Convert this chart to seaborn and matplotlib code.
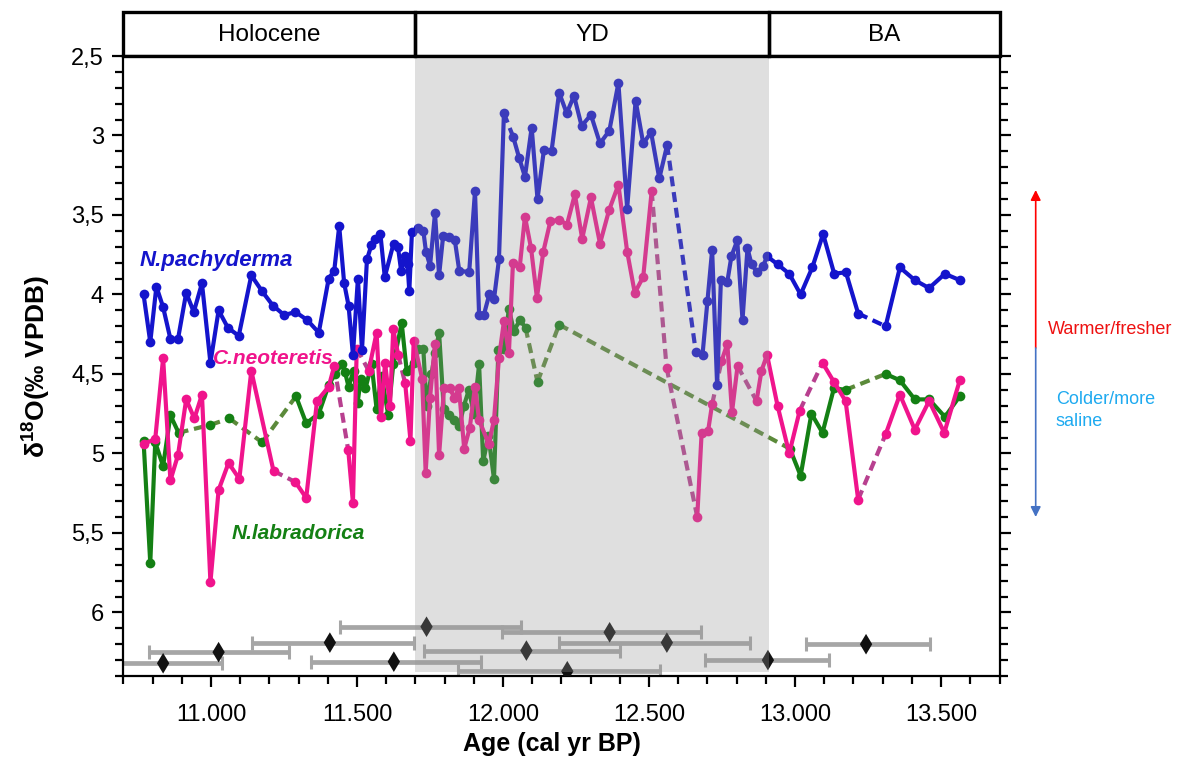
import matplotlib
matplotlib.use("Agg")
import numpy as np
import pandas as pd
import matplotlib.pyplot as plt
import seaborn as sns
from matplotlib.patches import Rectangle, FancyArrowPatch

# ---------------------------------------------------------------- data
# N. pachyderma (planktic) – age (cal yr BP), d18O (permil VPDB)
pach_age = [10769, 10792, 10813, 10836, 10861, 10887, 10915, 10941, 10969, 10998,
            11026, 11058, 11095, 11138, 11175, 11212, 11251, 11289, 11329, 11369,
            11403, 11422, 11439, 11456, 11471, 11486, 11503, 11517, 11534, 11549,
            11563, 11580, 11595, 11625, 11640, 11651, 11663, 11673, 11679, 11688,
            11709, 11727, 11736, 11750, 11767, 11781, 11795, 11816, 11835, 11850,
            11884, 11904, 11918, 11934, 11953, 11969, 11986, 12003, 12035, 12055,
            12075, 12098, 12118, 12140, 12166, 12192, 12218, 12243, 12269, 12301,
            12332, 12364, 12395, 12425, 12454, 12480, 12507, 12535, 12562, 12660,
            12683, 12700, 12716, 12733, 12746, 12768, 12782, 12802, 12820, 12837,
            12851, 12870, 12891, 12904, 12940, 12980, 13019, 13059, 13096, 13134,
            13174, 13216, 13310, 13359, 13410, 13459, 13513, 13564]
pach_d18o = [4.00, 4.30, 3.95, 4.08, 4.28, 4.28, 3.99, 4.11, 3.93, 4.43,
             4.10, 4.21, 4.26, 3.88, 3.98, 4.07, 4.13, 4.11, 4.16, 4.24,
             3.90, 3.85, 3.57, 3.93, 4.07, 4.38, 3.90, 4.35, 3.78, 3.69,
             3.65, 3.62, 3.89, 3.68, 3.70, 3.85, 3.76, 3.81, 3.98, 3.61,
             3.58, 3.60, 3.73, 3.82, 3.49, 3.88, 3.63, 3.64, 3.66, 3.85,
             3.86, 3.35, 4.13, 4.13, 4.00, 4.03, 3.78, 2.86, 3.01, 3.14,
             3.26, 2.95, 3.40, 3.09, 3.10, 2.73, 2.86, 2.75, 2.94, 2.87,
             3.05, 2.97, 2.67, 3.46, 2.78, 3.05, 2.98, 3.27, 3.06, 4.36,
             4.38, 4.04, 3.72, 4.57, 3.91, 3.92, 3.76, 3.66, 4.16, 3.71,
             3.81, 3.86, 3.82, 3.76, 3.81, 3.87, 4.00, 3.83, 3.62, 3.87,
             3.86, 4.12, 4.20, 3.83, 3.91, 3.96, 3.87, 3.91]

# C. neoteretis (benthic)
neot_age = [10769, 10809, 10836, 10861, 10887, 10915, 10943, 10969, 10998, 11026,
            11060, 11097, 11138, 11214, 11289, 11326, 11363, 11403, 11422, 11470,
            11486, 11499, 11540, 11567, 11582, 11596, 11613, 11624, 11641, 11665,
            11683, 11694, 11723, 11735, 11750, 11767, 11781, 11798, 11818, 11833,
            11849, 11867, 11886, 11904, 11918, 11951, 11969, 11986, 12003, 12020,
            12034, 12057, 12075, 12096, 12116, 12138, 12162, 12192, 12219, 12246,
            12271, 12301, 12332, 12363, 12395, 12425, 12451, 12480, 12509, 12560,
            12665, 12680, 12702, 12716, 12748, 12768, 12784, 12803, 12868, 12885,
            12904, 12940, 12980, 13016, 13094, 13133, 13173, 13216, 13310, 13359,
            13410, 13459, 13511, 13564]
neot_d18o = [4.94, 4.91, 4.40, 5.17, 5.01, 4.66, 4.78, 4.63, 5.81, 5.23,
             5.06, 5.16, 4.48, 5.11, 5.18, 5.28, 4.67, 4.58, 4.45, 4.98,
             5.31, 4.34, 4.48, 4.24, 4.77, 4.43, 4.70, 4.22, 4.38, 4.56,
             4.92, 4.29, 4.53, 5.12, 4.65, 4.31, 5.01, 4.59, 4.59, 4.65,
             4.59, 4.97, 4.84, 4.58, 4.79, 4.94, 4.79, 4.40, 4.17, 4.37,
             3.80, 3.83, 3.51, 3.71, 4.02, 3.73, 3.54, 3.53, 3.56, 3.37,
             3.65, 3.39, 3.68, 3.47, 3.31, 3.73, 3.99, 3.89, 3.35, 4.46,
             5.40, 4.87, 4.86, 4.69, 4.42, 4.31, 4.74, 4.45, 4.67, 4.48,
             4.38, 4.70, 5.00, 4.73, 4.43, 4.55, 4.67, 5.29, 4.88, 4.63,
             4.85, 4.67, 4.87, 4.54]

# N. labradorica (benthic)
labr_age = [10769, 10792, 10809, 10836, 10861, 10889, 10998, 11063, 11175, 11291,
            11326, 11369, 11403, 11425, 11448, 11459, 11471, 11488, 11502, 11513,
            11529, 11550, 11567, 11584, 11607, 11624, 11653, 11670, 11696, 11710,
            11727, 11738, 11755, 11767, 11781, 11797, 11815, 11833, 11850, 11866,
            11883, 11900, 11918, 11932, 11950, 11969, 11984, 12003, 12020, 12037,
            12058, 12077, 12118, 12192, 12982, 13019, 13056, 13094, 13133, 13173,
            13310, 13359, 13410, 13459, 13513, 13564]
labr_d18o = [4.92, 5.69, 4.93, 5.08, 4.76, 4.87, 4.82, 4.78, 4.93, 4.64,
             4.81, 4.75, 4.57, 4.50, 4.44, 4.49, 4.58, 4.48, 4.68, 4.53,
             4.59, 4.44, 4.72, 4.51, 4.76, 4.44, 4.18, 4.48, 4.43, 4.34,
             4.34, 4.70, 4.50, 4.37, 4.24, 4.72, 4.76, 4.79, 4.83, 4.70,
             4.60, 4.75, 4.44, 5.05, 4.89, 5.16, 4.35, 4.34, 4.09, 4.23,
             4.16, 4.21, 4.55, 4.19, 4.97, 5.14, 4.75, 4.87, 4.59, 4.60,
             4.50, 4.54, 4.66, 4.66, 4.77, 4.64]

# radiocarbon dates with calibrated age ranges
date_age = [11738, 12365, 11407, 12561, 13243, 11026, 12080, 10836, 11626, 12907, 12220]
date_err_young = [296, 369, 267, 370, 205, 238, 351, 200, 284, 216, 375]
date_err_old = [323, 312, 288, 284, 219, 241, 320, 202, 298, 208, 317]
date_level = [6.09, 6.125, 6.19, 6.19, 6.20, 6.25, 6.24, 6.32, 6.31, 6.30, 6.37]

# climate periods
period_names = ["Holocene", "YD", "BA"]
period_start = [10700, 11700, 12910]
period_end = [11700, 12910, 13700]

# axis ticks and labels
x_ticks = [11000, 11500, 12000, 12500, 13000, 13500]
x_tick_labels = ["11.000", "11.500", "12.000", "12.500", "13.000", "13.500"]
y_ticks = [2.5, 3.0, 3.5, 4.0, 4.5, 5.0, 5.5, 6.0]
y_tick_labels = ["2,5", "3", "3,5", "4", "4,5", "5", "5,5", "6"]

# links (index i -> i+1) drawn as dashed connections across sampling gaps
pach_dashed = [57, 78, 101]
neot_dashed = [13, 18, 21, 28, 68, 69, 73, 77, 83, 87]
labr_dashed = [5, 6, 7, 8, 51, 52, 53, 59]

# ---------------------------------------------------------------- style
sns.set_theme(style="white")
plt.rcParams["font.family"] = ["Liberation Sans", "DejaVu Sans"]
plt.rcParams["mathtext.fontset"] = "custom"
plt.rcParams["mathtext.rm"] = "Liberation Sans"
plt.rcParams["mathtext.bf"] = "Liberation Sans:bold"
for key in ("text.color", "axes.labelcolor", "xtick.color", "ytick.color",
            "axes.edgecolor"):
    plt.rcParams[key] = "black"

FW, FH = 1183, 758


def fx(px):
    return px / FW


def fy(py):
    return 1 - py / FH


AX_L, AX_R, AX_T, AX_B = 123.4, 999.5, 56, 676

fig = plt.figure(figsize=(FW / 100, FH / 100), dpi=100)
ax = fig.add_axes([fx(AX_L), fy(AX_B), (AX_R - AX_L) / FW, (AX_B - AX_T) / FH])
hax = fig.add_axes([fx(AX_L), fy(AX_T), (AX_R - AX_L) / FW, (AX_T - 12) / FH])

LW = 3.0
MS = 7.0


def draw_series(ages, vals, dashed, color, dash_color):
    run, r = [], 0
    for i in range(len(ages)):
        run.append(r)
        if i in dashed:
            r += 1
    df = pd.DataFrame({"age": ages, "d18o": vals, "run": run})
    sns.lineplot(data=df, x="age", y="d18o", units="run", estimator=None,
                 sort=False, color=color, lw=LW, marker="o", markersize=MS,
                 markeredgewidth=0, ax=ax, legend=False, zorder=3)
    for i in dashed:
        ax.plot(ages[i:i + 2], vals[i:i + 2], color=dash_color, lw=LW,
                ls=(0, (2.4, 1.4)), zorder=2.5, solid_capstyle="butt")


draw_series(labr_age, labr_d18o, labr_dashed, "#148014", "#5b8a3a")
draw_series(neot_age, neot_d18o, neot_dashed, "#f0148c", "#b8408f")
draw_series(pach_age, pach_d18o, pach_dashed, "#1414cc", "#1414cc")

# calibrated radiocarbon ages
ax.errorbar(date_age, date_level, xerr=[date_err_young, date_err_old], fmt="none",
            ecolor="#a6a6a6", elinewidth=3.4, capsize=5, capthick=2.2, zorder=2)
sns.scatterplot(x=date_age, y=date_level, marker="d", s=110, color="#111111",
                edgecolor="none", ax=ax, zorder=4, legend=False)

# Younger Dryas shading laid over the records
ax.axvspan(period_start[1], period_end[1], ymin=0.006, ymax=1,
           color=(0.59, 0.59, 0.59), alpha=0.3, lw=0, zorder=6)

# axes
ax.set_xlim(10700, 13700)
ax.set_ylim(6.4, 2.5)
ax.set_xticks(x_ticks)
ax.set_xticklabels(x_tick_labels)
ax.set_yticks(y_ticks)
ax.set_yticklabels(y_tick_labels)
ax.xaxis.set_minor_locator(matplotlib.ticker.MultipleLocator(100))
ax.yaxis.set_minor_locator(matplotlib.ticker.MultipleLocator(0.1))
ax.tick_params(axis="both", which="both", direction="out", color="black",
               labelcolor="black", width=1.6)
ax.tick_params(axis="both", which="major", length=8, labelsize=17)
ax.tick_params(axis="both", which="minor", length=5.5)
ax.tick_params(axis="y", which="both", left=True, right=True, labelright=False, pad=6)
ax.tick_params(axis="x", which="both", bottom=True, top=False, pad=12)
for s in ax.spines.values():
    s.set_color("black")
    s.set_linewidth(1.6)
ax.set_xlabel("")
ax.set_ylabel("")
ax.grid(False)

fig.text(fx(552), fy(744), "Age (cal yr BP)", ha="center", va="center",
         fontsize=18, fontweight="bold", color="black")
fig.text(fx(36), fy(366), r"δ$^{\mathbf{18}}$O(‰ VPDB)", rotation=90,
         ha="center", va="center", fontsize=19, fontweight="bold", color="black")

# series names
ax.text(10755, 3.82, "N.pachyderma", color="#1414cc", fontsize=16,
        fontweight="bold", style="italic", va="baseline", ha="left")
ax.text(11006, 4.44, "C.neoteretis", color="#f0148c", fontsize=15,
        fontweight="bold", style="italic", va="baseline", ha="left")
ax.text(11069, 5.54, "N.labradorica", color="#148014", fontsize=15,
        fontweight="bold", style="italic", va="baseline", ha="left")

# period header
hax.set_xlim(10700, 13700)
hax.set_ylim(0, 1)
hax.axis("off")
for name, a, b in zip(period_names, period_start, period_end):
    hax.add_patch(Rectangle((a, 0), b - a, 1, fill=False, ec="black", lw=2.4,
                            clip_on=False))
    hax.text((a + b) / 2, 0.47, name, ha="center", va="center", fontsize=17.5,
             color="black")

# interpretation arrow on the right
x_arr = fx(1035.7)
fig.add_artist(FancyArrowPatch((x_arr, fy(348)), (x_arr, fy(190)),
                               transform=fig.transFigure, color="#ff0000", lw=1.2,
                               arrowstyle="-|>,head_length=0.6,head_width=0.3",
                               mutation_scale=10, shrinkA=0, shrinkB=0))
fig.add_artist(FancyArrowPatch((x_arr, fy(348)), (x_arr, fy(517)),
                               transform=fig.transFigure, color="#4472c4", lw=1.2,
                               arrowstyle="-|>,head_length=0.6,head_width=0.3",
                               mutation_scale=10, shrinkA=0, shrinkB=0))
fig.text(fx(1048), fy(330), "Warmer/fresher", color="#ee1111", fontsize=13,
         ha="left", va="center")
fig.text(fx(1056), fy(399), "Colder/more", color="#1eaaf0", fontsize=13,
         ha="left", va="center")
fig.text(fx(1056), fy(421), "saline", color="#1eaaf0", fontsize=13,
         ha="left", va="center")

fig.savefig("out.png", dpi=100, facecolor="white")
